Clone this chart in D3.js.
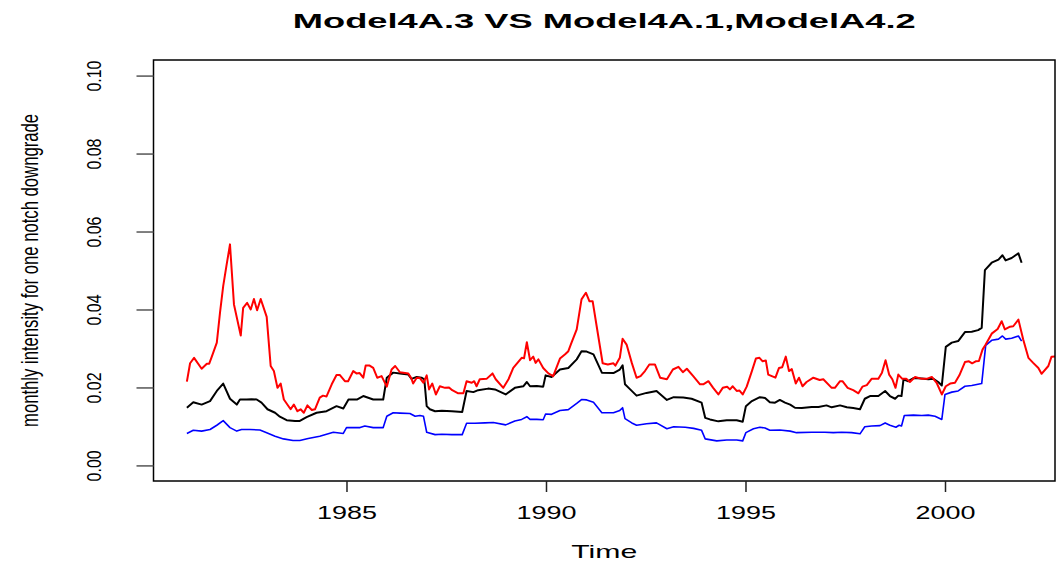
<!DOCTYPE html>
<html>
<head>
<meta charset="utf-8">
<script src="https://cdn.jsdelivr.net/npm/d3@7"></script>
<style>
  body { margin: 0; background: #fff; }
  svg { display: block; font-family: "Liberation Sans", Arial, Helvetica, sans-serif; }
</style>
</head>
<body>
<svg id="chart"></svg>
<script>
var width = 1057
var height = 565
var margin = ({top: 60, right: 2, bottom: 84, left: 153.5})

// Model4A.3 (black)
var blackYears = [1981.00,1981.16,1981.37,1981.58,1981.75,1981.91,1982.08,1982.25,1982.33,1982.50,1982.62,1982.75,1982.87,1983.02,1983.21,1983.33,1983.50,1983.71,1983.83,1984.00,1984.25,1984.50,1984.75,1984.92,1985.05,1985.26,1985.42,1985.67,1985.92,1986.01,1986.17,1986.34,1986.55,1986.63,1986.76,1986.88,1986.95,1987.01,1987.09,1987.22,1987.39,1987.64,1987.90,1988.01,1988.18,1988.30,1988.55,1988.72,1988.99,1989.22,1989.43,1989.52,1989.60,1989.77,1989.93,1989.99,1990.14,1990.35,1990.56,1990.77,1990.89,1991.02,1991.19,1991.40,1991.69,1991.85,1991.92,1991.98,1992.11,1992.27,1992.52,1992.77,1993.03,1993.20,1993.44,1993.65,1993.90,1993.99,1994.11,1994.32,1994.53,1994.78,1994.93,1995.01,1995.16,1995.36,1995.49,1995.61,1995.74,1995.86,1995.99,1996.12,1996.24,1996.41,1996.66,1996.83,1997.03,1997.16,1997.37,1997.54,1997.70,1997.87,1997.99,1998.12,1998.33,1998.50,1998.62,1998.75,1998.83,1998.91,1998.96,1999.08,1999.21,1999.42,1999.58,1999.71,1999.83,1999.92,2000.02,2000.17,2000.33,2000.50,2000.67,2000.83,2000.92,2001.00,2001.17,2001.34,2001.44,2001.52,2001.67,2001.84,2001.92]
var blackValues = [0.0148,0.0162,0.0156,0.0165,0.0191,0.0210,0.0171,0.0156,0.0169,0.0169,0.0170,0.0169,0.0161,0.0144,0.0135,0.0125,0.0116,0.0114,0.0114,0.0124,0.0135,0.0139,0.0152,0.0146,0.0169,0.0169,0.0178,0.0169,0.0169,0.0225,0.0238,0.0236,0.0233,0.0222,0.0227,0.0225,0.0221,0.0152,0.0144,0.0139,0.0140,0.0139,0.0137,0.0191,0.0188,0.0193,0.0197,0.0195,0.0182,0.0199,0.0203,0.0214,0.0203,0.0204,0.0202,0.0231,0.0227,0.0246,0.0250,0.0272,0.0293,0.0292,0.0285,0.0238,0.0237,0.0246,0.0257,0.0208,0.0195,0.0179,0.0186,0.0191,0.0168,0.0175,0.0174,0.0171,0.0161,0.0122,0.0118,0.0113,0.0116,0.0116,0.0112,0.0152,0.0165,0.0175,0.0173,0.0162,0.0161,0.0168,0.0161,0.0156,0.0148,0.0147,0.0150,0.0150,0.0154,0.0149,0.0154,0.0149,0.0147,0.0144,0.0171,0.0178,0.0178,0.0191,0.0178,0.0171,0.0179,0.0178,0.0221,0.0216,0.0224,0.0223,0.0221,0.0222,0.0214,0.0205,0.0304,0.0315,0.0319,0.0342,0.0343,0.0347,0.0353,0.0501,0.0520,0.0528,0.0539,0.0526,0.0532,0.0544,0.0520]

// Model4A.1 (blue)
var blueYears = [1981.00,1981.16,1981.37,1981.58,1981.75,1981.91,1982.08,1982.25,1982.37,1982.58,1982.83,1983.00,1983.21,1983.42,1983.66,1983.83,1984.04,1984.33,1984.67,1984.92,1985.00,1985.34,1985.46,1985.67,1985.92,1986.01,1986.17,1986.34,1986.59,1986.72,1986.84,1986.93,1987.01,1987.22,1987.39,1987.64,1987.90,1988.01,1988.22,1988.47,1988.68,1988.99,1989.22,1989.39,1989.52,1989.60,1989.77,1989.93,1989.99,1990.14,1990.35,1990.56,1990.77,1990.89,1991.02,1991.19,1991.40,1991.69,1991.85,1991.92,1991.98,1992.15,1992.27,1992.52,1992.77,1993.03,1993.20,1993.49,1993.70,1993.90,1993.99,1994.28,1994.53,1994.78,1994.93,1995.01,1995.20,1995.36,1995.49,1995.61,1995.86,1996.12,1996.28,1996.66,1996.99,1997.20,1997.41,1997.66,1997.87,1997.99,1998.16,1998.37,1998.50,1998.62,1998.77,1998.85,1998.91,1998.98,1999.21,1999.42,1999.58,1999.75,1999.92,2000.00,2000.17,2000.33,2000.50,2000.67,2000.92,2001.02,2001.17,2001.34,2001.44,2001.52,2001.67,2001.84,2001.92]
var blueValues = [0.0082,0.0090,0.0088,0.0092,0.0103,0.0115,0.0097,0.0088,0.0092,0.0092,0.0091,0.0084,0.0075,0.0068,0.0064,0.0064,0.0069,0.0075,0.0085,0.0082,0.0097,0.0097,0.0101,0.0097,0.0097,0.0126,0.0135,0.0134,0.0133,0.0126,0.0128,0.0126,0.0085,0.0079,0.0080,0.0079,0.0079,0.0108,0.0108,0.0109,0.0110,0.0104,0.0114,0.0118,0.0125,0.0118,0.0118,0.0117,0.0132,0.0131,0.0141,0.0143,0.0159,0.0169,0.0168,0.0162,0.0135,0.0135,0.0141,0.0148,0.0120,0.0109,0.0103,0.0107,0.0109,0.0094,0.0099,0.0098,0.0095,0.0090,0.0068,0.0063,0.0065,0.0065,0.0063,0.0084,0.0094,0.0098,0.0096,0.0090,0.0091,0.0088,0.0084,0.0085,0.0085,0.0084,0.0085,0.0084,0.0081,0.0099,0.0101,0.0102,0.0109,0.0103,0.0098,0.0103,0.0101,0.0128,0.0129,0.0128,0.0129,0.0126,0.0118,0.0182,0.0188,0.0191,0.0203,0.0205,0.0210,0.0308,0.0321,0.0324,0.0332,0.0324,0.0326,0.0332,0.0319]

// ModelA4.2 (red)
var redYears = [1981.00,1981.08,1981.18,1981.37,1981.50,1981.56,1981.62,1981.75,1981.83,1981.91,1981.99,1982.08,1982.18,1982.35,1982.41,1982.51,1982.60,1982.68,1982.76,1982.85,1983.00,1983.10,1983.18,1983.27,1983.35,1983.43,1983.60,1983.68,1983.77,1983.85,1983.93,1984.02,1984.13,1984.21,1984.33,1984.41,1984.50,1984.63,1984.75,1984.83,1984.96,1985.04,1985.17,1985.25,1985.33,1985.42,1985.48,1985.58,1985.67,1985.77,1985.88,1986.01,1986.13,1986.22,1986.34,1986.55,1986.63,1986.67,1986.76,1986.84,1986.93,1987.01,1987.07,1987.15,1987.24,1987.34,1987.47,1987.57,1987.65,1987.80,1987.93,1988.01,1988.14,1988.20,1988.26,1988.34,1988.51,1988.66,1988.74,1988.93,1989.06,1989.18,1989.39,1989.45,1989.52,1989.60,1989.68,1989.74,1989.81,1989.93,1990.06,1990.18,1990.35,1990.48,1990.56,1990.64,1990.77,1990.89,1991.00,1991.09,1991.17,1991.27,1991.42,1991.55,1991.69,1991.74,1991.85,1991.92,1992.02,1992.15,1992.27,1992.37,1992.48,1992.59,1992.73,1992.86,1993.03,1993.18,1993.32,1993.43,1993.53,1993.69,1993.86,1993.94,1994.07,1994.19,1994.32,1994.43,1994.54,1994.61,1994.68,1994.78,1994.85,1994.93,1995.03,1995.16,1995.26,1995.35,1995.43,1995.51,1995.57,1995.75,1995.84,1995.92,1996.01,1996.09,1996.16,1996.26,1996.34,1996.43,1996.53,1996.70,1996.86,1996.95,1997.16,1997.24,1997.37,1997.43,1997.56,1997.70,1997.83,1997.93,1998.04,1998.16,1998.33,1998.42,1998.51,1998.60,1998.68,1998.76,1998.83,1998.93,1999.03,1999.12,1999.25,1999.42,1999.54,1999.67,1999.79,1999.92,2000.02,2000.13,2000.25,2000.36,2000.50,2000.60,2000.68,2000.77,2000.85,2000.94,2001.02,2001.17,2001.32,2001.42,2001.50,2001.63,2001.71,2001.84,2001.96,2002.09,2002.21,2002.34,2002.42,2002.59,2002.67,2002.80]
var redValues = [0.0215,0.0262,0.0276,0.0248,0.0261,0.0261,0.0278,0.0315,0.0392,0.0460,0.0511,0.0567,0.0413,0.0333,0.0404,0.0417,0.0400,0.0427,0.0398,0.0427,0.0381,0.0255,0.0242,0.0199,0.0210,0.0169,0.0144,0.0156,0.0139,0.0144,0.0135,0.0154,0.0142,0.0144,0.0174,0.0179,0.0177,0.0208,0.0232,0.0232,0.0216,0.0216,0.0242,0.0236,0.0237,0.0225,0.0256,0.0256,0.0250,0.0225,0.0229,0.0202,0.0246,0.0255,0.0239,0.0236,0.0222,0.0210,0.0225,0.0224,0.0212,0.0231,0.0195,0.0210,0.0182,0.0203,0.0199,0.0200,0.0193,0.0185,0.0185,0.0216,0.0212,0.0216,0.0203,0.0221,0.0222,0.0236,0.0221,0.0199,0.0221,0.0250,0.0276,0.0275,0.0316,0.0270,0.0279,0.0263,0.0272,0.0250,0.0236,0.0229,0.0274,0.0285,0.0293,0.0315,0.0349,0.0426,0.0443,0.0421,0.0421,0.0357,0.0262,0.0259,0.0262,0.0256,0.0276,0.0325,0.0310,0.0263,0.0225,0.0229,0.0242,0.0259,0.0259,0.0225,0.0221,0.0246,0.0253,0.0239,0.0248,0.0229,0.0208,0.0208,0.0216,0.0199,0.0182,0.0199,0.0202,0.0195,0.0203,0.0191,0.0192,0.0182,0.0202,0.0242,0.0274,0.0276,0.0267,0.0269,0.0233,0.0225,0.0250,0.0252,0.0279,0.0242,0.0247,0.0210,0.0225,0.0203,0.0214,0.0225,0.0219,0.0221,0.0199,0.0199,0.0216,0.0216,0.0199,0.0193,0.0185,0.0202,0.0206,0.0222,0.0222,0.0238,0.0270,0.0233,0.0221,0.0199,0.0233,0.0222,0.0222,0.0214,0.0227,0.0222,0.0222,0.0227,0.0212,0.0182,0.0203,0.0210,0.0212,0.0231,0.0265,0.0267,0.0262,0.0267,0.0268,0.0297,0.0310,0.0338,0.0350,0.0370,0.0349,0.0356,0.0357,0.0374,0.0323,0.0276,0.0263,0.0250,0.0235,0.0255,0.0279,0.0280]

var yTicks = [0, 0.02, 0.04, 0.06, 0.08, 0.10]
var xTicks = [1985, 1990, 1995, 2000]
var titleText = "Model4A.3 VS Model4A.1,ModelA4.2"
var xLabel = "Time"
var yLabel = "monthly intensity for one notch downgrade"

// R pads the range by 4% on each side; x range comes from the first series
var xExt = d3.extent(blackYears)
var xPad = (xExt[1] - xExt[0]) * 0.04
var x = d3.scaleLinear()
    .domain([xExt[0] - xPad, xExt[1] + xPad])
    .range([margin.left, width - margin.right])
var y = d3.scaleLinear()
    .domain([-0.004, 0.104])
    .range([height - margin.bottom, margin.top])

const svg = d3.select("#chart")
    .attr("width", width)
    .attr("height", height)

svg.append("clipPath").attr("id", "plot-clip")
  .append("rect")
    .attr("x", x.range()[0])
    .attr("y", y.range()[1])
    .attr("width", x.range()[1] - x.range()[0])
    .attr("height", y.range()[0] - y.range()[1])

var line = d3.line()
    .x(d => x(d[0]))
    .y(d => y(d[1]))

var series = [
    {name: "Model4A.3", years: blackYears, values: blackValues, color: "#000000", w: 2},
    {name: "Model4A.1", years: blueYears, values: blueValues, color: "#0000ff", w: 1.6},
    {name: "ModelA4.2", years: redYears, values: redValues, color: "#ff0000", w: 2}
]

svg.append("g")
    .attr("clip-path", "url(#plot-clip)")
    .attr("fill", "none")
    .attr("stroke-linejoin", "round")
  .selectAll("path")
  .data(series)
  .join("path")
    .attr("stroke", d => d.color)
    .attr("stroke-width", d => d.w)
    .attr("d", d => line(d.years.map((t, i) => [t, d.values[i]])))

// box
svg.append("rect")
    .attr("x", x.range()[0])
    .attr("y", y.range()[1])
    .attr("width", x.range()[1] - x.range()[0])
    .attr("height", y.range()[0] - y.range()[1])
    .attr("fill", "none")
    .attr("stroke", "#000")
    .attr("stroke-width", 1.5)

// x axis
var xAxis = svg.append("g")
    .attr("transform", `translate(0,${y.range()[0]})`)
    .call(d3.axisBottom(x).tickValues(xTicks).tickFormat(d3.format("d")).tickSize(11).tickPadding(14))
xAxis.select(".domain").remove()
xAxis.selectAll(".tick line").attr("stroke", "#222").attr("stroke-width", 1.5)
xAxis.selectAll(".tick text")
    .attr("fill", "#000")
    .style("font-size", "19px")
    .attr("textLength", 60)
    .attr("lengthAdjust", "spacingAndGlyphs")

// y axis
var yAxis = svg.append("g")
    .attr("transform", `translate(${x.range()[0]},0)`)
    .call(d3.axisLeft(y).tickValues(yTicks).tickFormat(d3.format(".2f")).tickSize(17).tickPadding(0))
yAxis.select(".domain").remove()
yAxis.selectAll(".tick line").attr("stroke", "#555").attr("stroke-width", 1.5)
yAxis.selectAll(".tick text")
    .attr("fill", "#000")
    .attr("x", null).attr("dy", null)
    .attr("text-anchor", "middle")
    .attr("transform", "translate(-53,0) rotate(-90)")
    .style("font-size", "21px")
    .attr("textLength", 31)
    .attr("lengthAdjust", "spacingAndGlyphs")

// title
svg.append("text")
    .attr("x", (x.range()[0] + x.range()[1]) / 2)
    .attr("y", 28)
    .attr("text-anchor", "middle")
    .style("font-size", "21px")
    .style("font-weight", "bold")
    .attr("textLength", 623)
    .attr("lengthAdjust", "spacingAndGlyphs")
    .text(titleText)

svg.append("text")
    .attr("x", (x.range()[0] + x.range()[1]) / 2)
    .attr("y", 558)
    .attr("text-anchor", "middle")
    .style("font-size", "19px")
    .attr("textLength", 66)
    .attr("lengthAdjust", "spacingAndGlyphs")
    .text(xLabel)

svg.append("text")
    .attr("transform", `translate(38,${(y.range()[0] + y.range()[1]) / 2}) rotate(-90)`)
    .attr("text-anchor", "middle")
    .style("font-size", "24px")
    .attr("textLength", 313)
    .attr("lengthAdjust", "spacingAndGlyphs")
    .text(yLabel)
</script>
</body>
</html>
